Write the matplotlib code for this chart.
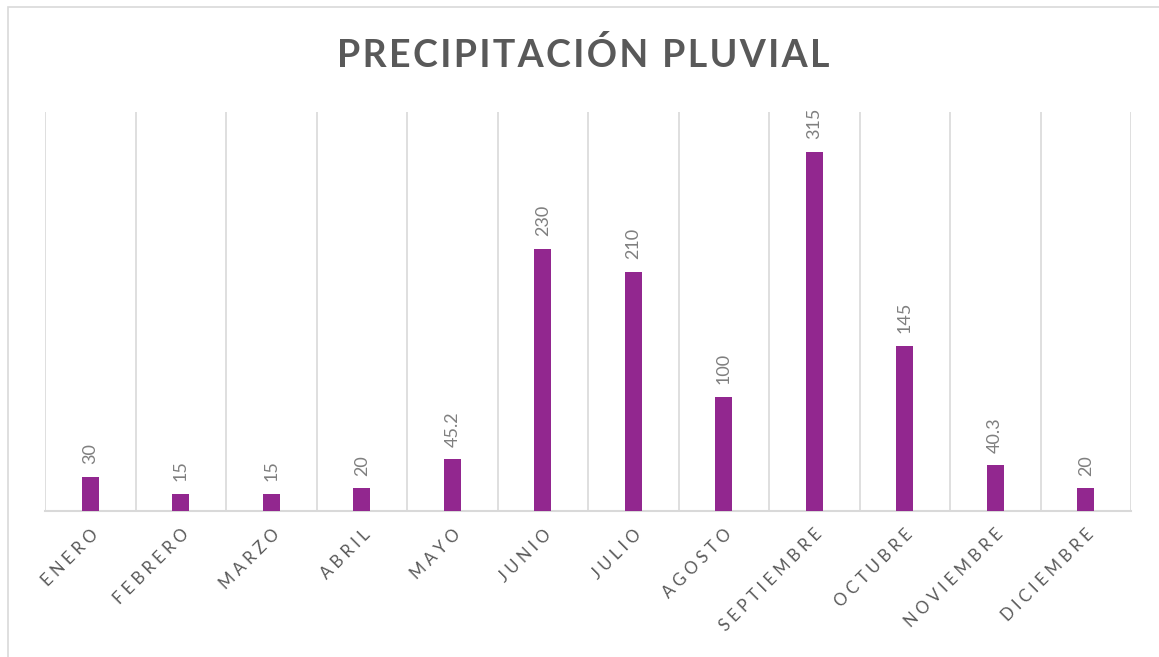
import matplotlib.pyplot as plt
from matplotlib.patches import Rectangle

plt.rcParams['font.family'] = ['Lato', 'DejaVu Sans']

meses = ["ENERO", "FEBRERO", "MARZO", "ABRIL", "MAYO", "JUNIO", "JULIO",
         "AGOSTO", "SEPTIEMBRE", "OCTUBRE", "NOVIEMBRE", "DICIEMBRE"]
lluvia = [30, 15, 15, 20, 45.2, 230, 210, 100, 315, 145, 40.3, 20]
etiquetas = ["30", "15", "15", "20", "45.2", "230", "210", "100", "315", "145", "40.3", "20"]


def spaced(s, sep=" "):
    # letter spacing like the excel chart
    return sep.join(s)


fig = plt.figure(figsize=(11.59, 6.57), dpi=100)
ax = fig.add_axes([45 / 1159, 146 / 657, 1086 / 1159, 399 / 657])

x = list(range(len(meses)))
ax.bar(x, lluvia, width=0.19, color="#92278F", zorder=3)

for i in range(len(meses)):
    ax.annotate(etiquetas[i], (x[i], lluvia[i]), xytext=(0, 9), textcoords="offset points",
                rotation=90, ha="center", va="bottom", fontsize=13, color="#7F7F7F")

ax.set_xlim(-0.5, 11.5)
ax.set_ylim(0, 350)
ax.set_yticks([])
ax.set_xticks(x)
ax.set_xticklabels([spaced(m) for m in meses], rotation=45, ha="right",
                   rotation_mode="anchor", fontsize=12, color="#595959")
ax.set_xticks([i - 0.5 for i in range(13)], minor=True)
ax.tick_params(axis="x", which="both", length=0, pad=11)
ax.grid(axis="x", which="minor", color="#D9D9D9", linewidth=1.2, zorder=0)
for s in ["top", "left", "right"]:
    ax.spines[s].set_visible(False)
ax.spines["bottom"].set_color("#D9D9D9")
ax.spines["bottom"].set_linewidth(1.5)

fig.text(0.503, 0.917, spaced("PRECIPITACIÓN PLUVIAL", "\u200a"), ha="center", va="center",
         fontsize=27, fontweight="bold", color="#595959")

fig.patches.append(Rectangle((8 / 1159, -0.05), 1.2, 0.05 + 650 / 657, transform=fig.transFigure,
                             fill=False, edgecolor="#D9D9D9", linewidth=1.2))

plt.savefig("out.png", dpi=100)
